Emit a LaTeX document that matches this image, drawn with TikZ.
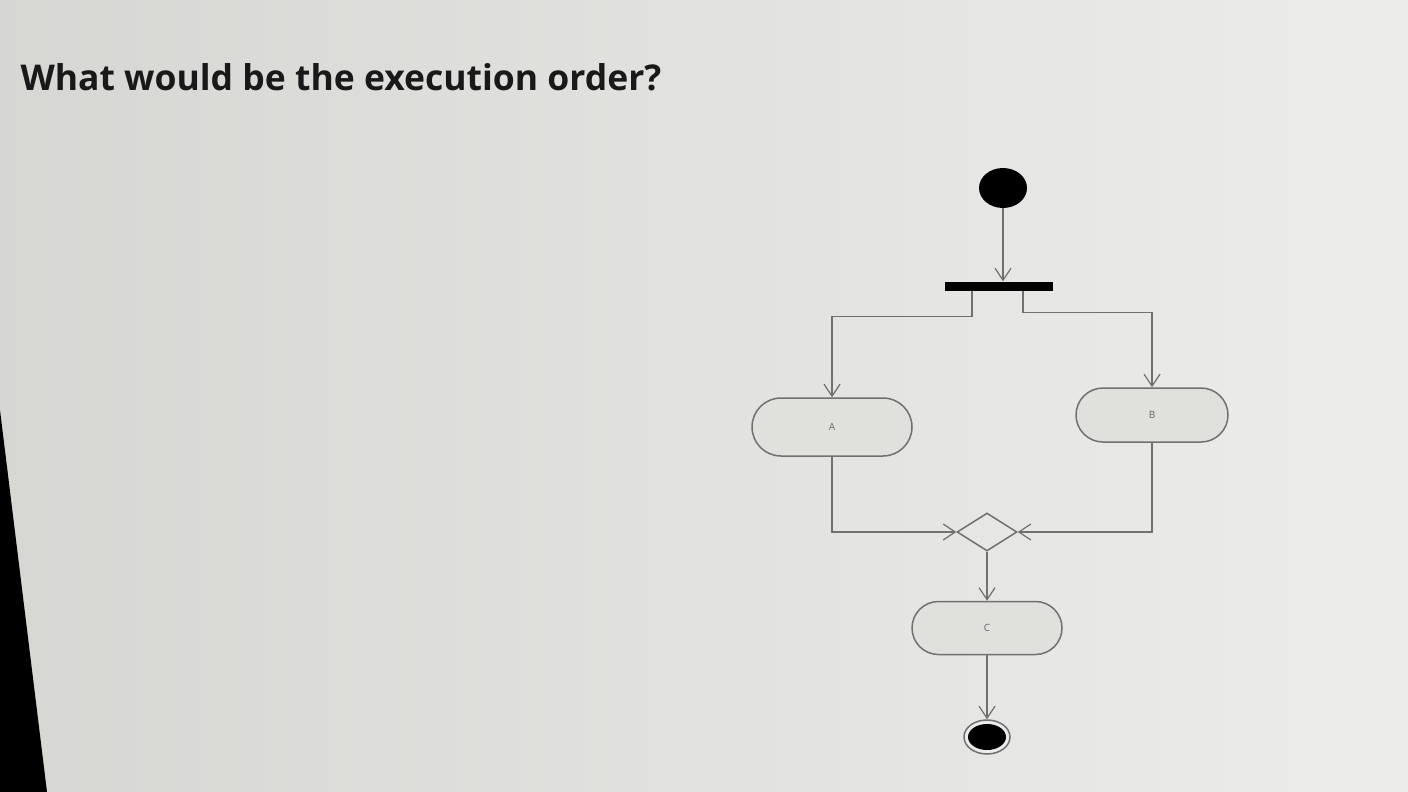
\documentclass[tikz,border=0pt]{standalone}
\usepackage{fontspec}
\setmainfont{Open Sans}
\usetikzlibrary{arrows.meta,shapes.geometric,shapes.misc}
\definecolor{bg}{HTML}{E0E0DD}
\definecolor{ln}{HTML}{707070}
\begin{document}
\begin{tikzpicture}[x=1pt,y=-1pt,
  flow/.style={draw=ln,line width=1.5pt,-{Straight Barb[length=12pt,width=16pt,line width=1.2pt]}},
  act/.style={rounded rectangle,draw=ln,line width=1.5pt,fill=bg,inner sep=0pt,font=\fontsize{10}{12}\selectfont,text=black!60},
  blob/.style={ellipse,fill=black,inner sep=0pt}]
\shade[left color=bg!90!gray,right color=bg!60!white] (0,0) rectangle (1408,792);
\useasboundingbox (0,0) rectangle (1408,792);
\fill[black] (0,410) -- (47,792) -- (0,792) -- cycle;
\node[anchor=west,font=\fontsize{35.5}{42}\selectfont\bfseries,text=black!90] (title) at (17,77) {What would be the execution order?};
\node[blob,minimum width=48pt,minimum height=40pt] (start) at (1003,188) {};
\node[rectangle,fill=black,minimum width=108pt,minimum height=9pt,inner sep=0pt] (bar) at (999,286) {};
\node[act,minimum width=160pt,minimum height=58pt] (A) at (832,427) {A};
\node[act,minimum width=152pt,minimum height=54pt] (B) at (1152,415) {B};
\node[diamond,draw=ln,line width=1.5pt,minimum width=60pt,minimum height=38pt,inner sep=0pt] (merge) at (987,532) {};
\node[act,minimum width=150pt,minimum height=53pt] (C) at (987,628) {C};
\node[ellipse,draw=ln,line width=1.5pt,fill=white!85!gray,minimum width=46pt,minimum height=34pt,inner sep=0pt] (final) at (987,737) {};
\node[blob,minimum width=38pt,minimum height=26pt] (finalin) at (final.center) {};
\draw[flow] (start) -- (start.south |- bar.north);
\draw[flow] ([xshift=-27pt]bar.south) -- ++(0,26) -| (A.north);
\draw[flow] ([xshift=24pt]bar.south) -- ++(0,22) -| (B.north);
\draw[flow] (A.south) |- (merge.west);
\draw[flow] (B.south) |- (merge.east);
\draw[flow] (merge.south) -- (C.north);
\draw[flow] (C.south) -- (final.north);
\end{tikzpicture}
\end{document}
